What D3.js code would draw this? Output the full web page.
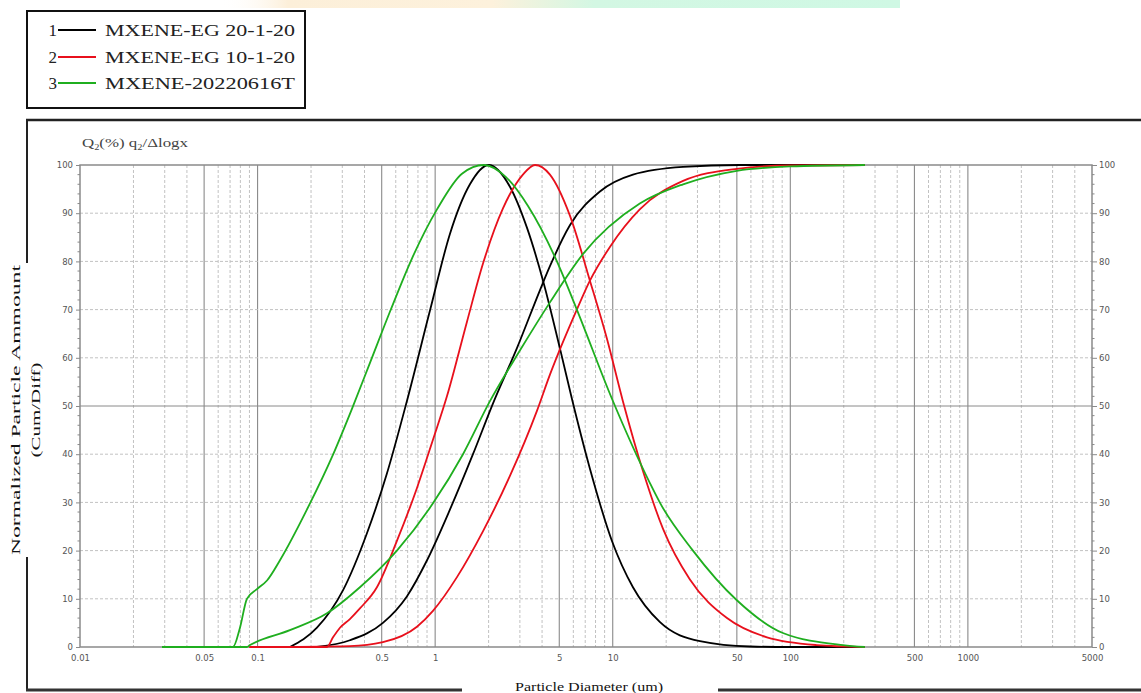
<!DOCTYPE html>
<html>
<head>
<meta charset="utf-8">
<script src="https://cdn.jsdelivr.net/npm/d3@7"></script>
<style>
  html, body { margin: 0; padding: 0; background: #fff; }
  svg { display: block; }
</style>
</head>
<body>
<svg id="chart" width="1141" height="693"></svg>
<script>
// Particle size distributions: [diameter (um), value (%)]
// q2/Δlogx (normalized frequency) and Q2 (cumulative) for each sample.
const blackFreq = [[0.152,0],[0.216,4],[0.303,11.8],[0.413,23.6],[0.535,36],[0.693,51],[0.935,69.8],[1.211,85.7],[1.57,96],[2.0,100],[2.637,95.5],[3.288,87],[4.05,76],[5.04,62],[5.89,51.5],[7.44,37],[9.9,22],[13.0,12.4],[18.4,5.2],[31.0,1.2],[59.3,0.1],[100,0],[263,0]];
const blackCum = [[0.216,0],[0.331,1.4],[0.508,5],[0.693,10.5],[0.900,18],[1.211,28.5],[1.633,40],[2.115,50.5],[2.888,62],[3.89,74],[4.43,79],[5.74,87.5],[8.47,94.5],[13.0,98],[24.9,99.6],[51.7,100],[263,100]];
const redFreq = [[0.09,0],[0.246,0],[0.266,2],[0.291,4],[0.331,5.8],[0.377,8],[0.470,12.4],[0.609,22],[0.790,33],[0.972,43],[1.165,52],[1.511,67.5],[1.858,79.5],[2.409,91],[3.12,98],[3.65,100],[4.43,98],[5.74,89.5],[7.44,76],[9.27,64],[11.41,51],[14.8,36.5],[19.2,24.5],[27.2,14],[44,6],[73.9,2],[141,0.4],[263,0]];
const redCum = [[0.09,0],[0.331,0.2],[0.508,1],[0.790,4.2],[0.972,7.5],[1.327,14.5],[1.858,24],[2.637,35.5],[3.743,49],[4.43,56.5],[6.28,70],[7.44,76],[9.64,83],[14.2,90.8],[24.9,96.7],[50,99.2],[99.5,99.9],[263,100]];
const greenFreq = [[0.029,0],[0.0727,0],[0.0796,4],[0.0871,10],[0.0992,12],[0.113,13.8],[0.1337,18],[0.192,28.9],[0.266,39.9],[0.340,49.4],[0.430,59],[0.557,69.6],[0.740,80.6],[1.024,90.8],[1.416,98.2],[1.883,100],[2.505,97.5],[3.334,91.5],[4.85,80],[6.28,70],[9.90,51.5],[16.2,34],[18.4,30],[28.3,20],[50,9.7],[90.8,2.9],[198,0.4],[263,0]];
const greenCum = [[0.029,0],[0.087,0],[0.0906,0.4],[0.152,3.5],[0.246,7],[0.377,12.4],[0.609,20],[0.972,29.8],[1.435,40],[2.035,51],[3.0,61.5],[4.43,71.5],[6.79,81.5],[14.2,92],[24.9,96],[50,98.8],[99.5,99.7],[263,100]];

const sampleNames = ["MXENE-EG 20-1-20", "MXENE-EG 10-1-20", "MXENE-20220616T"];
const sampleColors = ["#000000", "#e8101c", "#1fae1f"];

const xTickValues = [0.01, 0.05, 0.1, 0.5, 1, 5, 10, 50, 100, 500, 1000, 5000];
const xTickLabels = ["0.01", "0.05", "0.1", "0.5", "1", "5", "10", "50", "100", "500", "1000", "5000"];
const yTickValues = [0, 10, 20, 30, 40, 50, 60, 70, 80, 90, 100];

const svg = d3.select("#chart");
const W = 1141, H = 693;
const plot = { left: 80, right: 1092, top: 165, bottom: 647 };

const x = d3.scaleLog().domain([0.01, 5000]).range([plot.left, plot.right]);
const y = d3.scaleLinear().domain([0, 100]).range([plot.bottom, plot.top]);

// faint coloured strip along the very top edge
const defs = svg.append("defs");
const grad = defs.append("linearGradient").attr("id", "topband");
grad.append("stop").attr("offset", "0%").attr("stop-color", "#fff").attr("stop-opacity", 0);
grad.append("stop").attr("offset", "10%").attr("stop-color", "#fcefd9");
grad.append("stop").attr("offset", "40%").attr("stop-color", "#fdf1dc");
grad.append("stop").attr("offset", "55%").attr("stop-color", "#d3f7e3");
grad.append("stop").attr("offset", "100%").attr("stop-color", "#cff8e4");
svg.append("rect").attr("x", 220).attr("y", 0).attr("width", 680).attr("height", 8).attr("fill", "url(#topband)");

// legend box
const legend = svg.append("g");
legend.append("rect").attr("x", 27).attr("y", 11).attr("width", 278).attr("height", 97)
  .attr("fill", "#fff").attr("stroke", "#111").attr("stroke-width", 2);
const rowY = [30, 57, 83];
sampleNames.forEach((name, i) => {
  legend.append("text").attr("x", 57).attr("y", rowY[i] + 6).attr("text-anchor", "end")
    .attr("font-family", "Liberation Serif, Times New Roman, serif").attr("font-size", 17)
    .attr("fill", "#222").text(String(i + 1));
  legend.append("line").attr("x1", 58).attr("x2", 96).attr("y1", rowY[i]).attr("y2", rowY[i])
    .attr("stroke", sampleColors[i]).attr("stroke-width", 2.2);
  legend.append("text").attr("x", 105).attr("y", rowY[i] + 6)
    .attr("font-family", "Liberation Serif, Times New Roman, serif").attr("font-size", 17.5)
    .attr("fill", "#222").attr("textLength", 190).attr("lengthAdjust", "spacingAndGlyphs").text(name);
});

// outer frame of the chart panel
const frame = svg.append("g").attr("stroke", "#222").attr("fill", "none");
frame.append("line").attr("x1", 26).attr("x2", W).attr("y1", 120).attr("y2", 120).attr("stroke-width", 2.5);
frame.append("line").attr("x1", 27).attr("x2", 27).attr("y1", 119).attr("y2", 691).attr("stroke-width", 2);
frame.append("line").attr("x1", 26).attr("x2", W).attr("y1", 690).attr("y2", 690).attr("stroke-width", 3).attr("stroke", "#333");

// header above the plot
svg.append("text").attr("x", 82).attr("y", 147)
  .attr("font-family", "Liberation Serif, Times New Roman, serif").attr("font-size", 13).attr("fill", "#444")
  .attr("textLength", 106).attr("lengthAdjust", "spacingAndGlyphs")
  .call(t => {
    t.append("tspan").text("Q");
    t.append("tspan").attr("font-size", 8).attr("dy", 3).text("2");
    t.append("tspan").attr("dy", -3).text("(%) q");
    t.append("tspan").attr("font-size", 8).attr("dy", 3).text("2");
    t.append("tspan").attr("dy", -3).text("/\u0394logx");
  });

// grid
const grid = svg.append("g");
const gridVals = [];
for (let e = -2; e <= 3; e++) {
  for (let k = 1; k <= 9; k++) {
    const v = k * Math.pow(10, e);
    if (v > 0.01 * 1.0001 && v < 5000 * 0.9999) gridVals.push({ v, major: k === 1 || k === 5 });
  }
}
grid.selectAll("line.vg").data(gridVals).join("line")
  .attr("x1", d => x(d.v)).attr("x2", d => x(d.v))
  .attr("y1", plot.top).attr("y2", plot.bottom)
  .attr("stroke", d => d.major ? "#8a8a8a" : "#c2c2c2")
  .attr("stroke-width", d => d.major ? 1.1 : 1)
  .attr("stroke-dasharray", d => d.major ? null : "3,2");
grid.selectAll("line.hg").data(yTickValues.filter(v => v > 0 && v < 100)).join("line")
  .attr("x1", plot.left).attr("x2", plot.right)
  .attr("y1", d => y(d)).attr("y2", d => y(d))
  .attr("stroke", d => d === 50 ? "#8a8a8a" : "#c2c2c2")
  .attr("stroke-width", 1)
  .attr("stroke-dasharray", d => d === 50 ? null : "3,2");

// plot border
svg.append("rect").attr("x", plot.left).attr("y", plot.top)
  .attr("width", plot.right - plot.left).attr("height", plot.bottom - plot.top)
  .attr("fill", "none").attr("stroke", "#8a8a8a").attr("stroke-width", 1.5);

// axes
const tickFont = "DejaVu Sans, Verdana, sans-serif";
function styleAxis(g) {
  g.select(".domain").remove();
  g.selectAll(".tick line").attr("stroke", "#8a8a8a");
  g.selectAll(".tick text").attr("fill", "#555").attr("font-family", tickFont).attr("font-size", 8.5);
}
const labelOf = new Map(xTickValues.map((v, i) => [v, xTickLabels[i]]));
svg.append("g").attr("transform", `translate(0,${plot.bottom})`)
  .call(d3.axisBottom(x).tickValues(xTickValues).tickFormat(d => labelOf.get(d)).tickSize(0).tickPadding(8))
  .call(styleAxis);
svg.append("g").attr("transform", `translate(${plot.left},0)`)
  .call(d3.axisLeft(y).tickValues(yTickValues).tickSize(4).tickPadding(3))
  .call(styleAxis);
svg.append("g").attr("transform", `translate(${plot.right},0)`)
  .call(d3.axisRight(y).tickValues(yTickValues).tickSize(5).tickPadding(2))
  .call(styleAxis);
// minor ticks every 2 %
const minorY = d3.range(0, 101, 2).filter(v => v % 10 !== 0);
[plot.left, plot.right].forEach((px, side) => {
  svg.append("g").selectAll("line").data(minorY).join("line")
    .attr("x1", px).attr("x2", side ? px + 2.5 : px - 2.5)
    .attr("y1", d => y(d)).attr("y2", d => y(d))
    .attr("stroke", "#8a8a8a");
});

// distribution curves
const line = d3.line().x(d => x(d[0])).y(d => y(d[1])).curve(d3.curveMonotoneX);
const series = [
  { data: blackFreq, color: sampleColors[0] },
  { data: blackCum, color: sampleColors[0] },
  { data: redFreq, color: sampleColors[1] },
  { data: redCum, color: sampleColors[1] },
  { data: greenFreq, color: sampleColors[2] },
  { data: greenCum, color: sampleColors[2] }
];
svg.append("g").selectAll("path").data(series).join("path")
  .attr("d", d => line(d.data))
  .attr("fill", "none").attr("stroke", d => d.color).attr("stroke-width", 1.8)
  .attr("stroke-linejoin", "round");

// axis titles with white backing over the frame
const serif = "Liberation Serif, Times New Roman, serif";
svg.append("rect").attr("x", 462).attr("y", 684).attr("width", 256).attr("height", 9).attr("fill", "#fff");
svg.append("text").attr("x", 589).attr("y", 691).attr("text-anchor", "middle")
  .attr("font-family", serif).attr("font-size", 13).attr("fill", "#111")
  .attr("textLength", 148).attr("lengthAdjust", "spacingAndGlyphs")
  .text("Particle Diameter (um)");

svg.append("rect").attr("x", 4).attr("y", 263).attr("width", 44).attr("height", 294).attr("fill", "#fff");
const yTitle = svg.append("g").attr("transform", "translate(0,410) rotate(-90)")
  .attr("font-family", serif).attr("font-size", 13.5).attr("fill", "#111").attr("text-anchor", "middle");
yTitle.append("text").attr("x", 0).attr("y", 20).attr("textLength", 290).attr("lengthAdjust", "spacingAndGlyphs")
  .text("Normalized Particle Ammount");
yTitle.append("text").attr("x", 0).attr("y", 40).attr("textLength", 95).attr("lengthAdjust", "spacingAndGlyphs")
  .text("(Cum/Diff)");
</script>
</body>
</html>
